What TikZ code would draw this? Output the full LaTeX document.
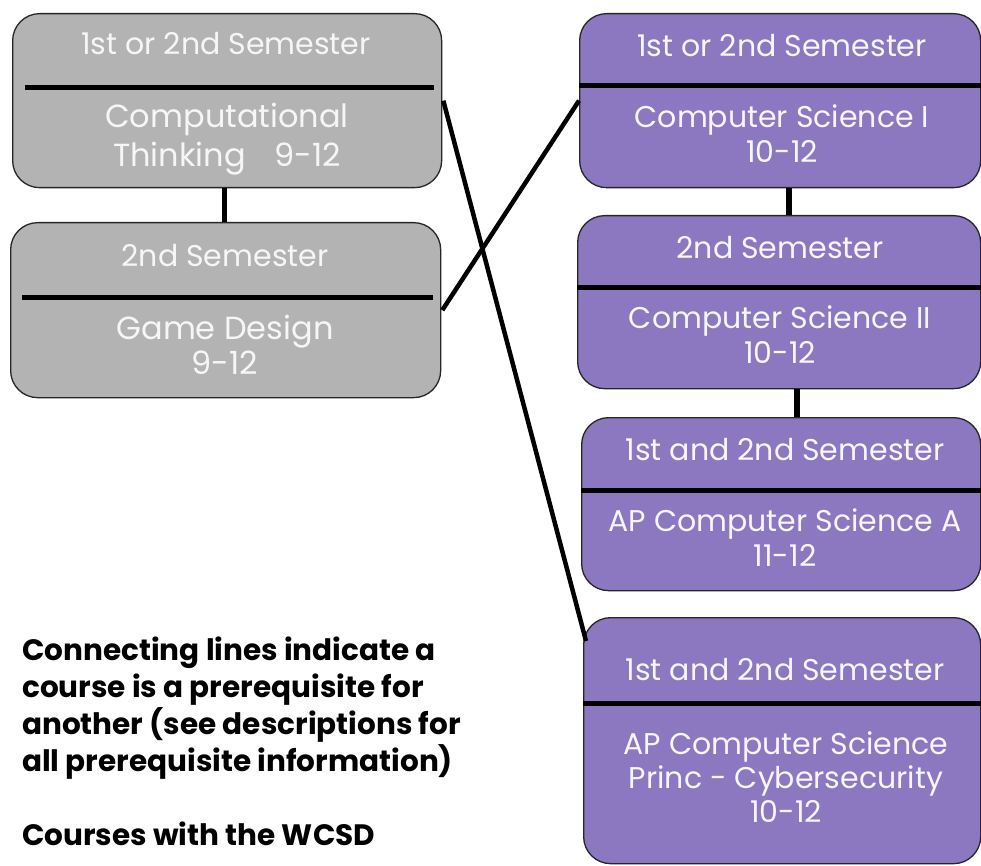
\documentclass[tikz,border=0pt]{standalone}
\usepackage{fontspec}
\setmainfont{Poppins}
\usetikzlibrary{calc}
\definecolor{boxgray}{HTML}{B3B3B3}
\definecolor{boxpurple}{HTML}{8B78C1}
\definecolor{boxtext}{HTML}{F6F6F6}
\begin{document}
\begin{tikzpicture}[x=1pt,y=-1pt,
  course/.style={draw=black!85, line width=1.3pt, rounded corners=27pt, inner sep=0pt, anchor=north west},
  grayc/.style={course, fill=boxgray},
  purc/.style={course, fill=boxpurple},
  divider/.style={line width=5pt, black},
  link/.style={line width=5.5pt, black},
  cross/.style={line width=4.5pt, black},
  head/.style={text=boxtext, font=\fontsize{30}{35}\selectfont, inner sep=0pt, anchor=base},
  body/.style={text=boxtext, font=\fontsize{30}{35}\selectfont, align=center, inner sep=0pt, anchor=base},
  note/.style={font=\bfseries\fontsize{29.5}{37}\selectfont, align=left, anchor=base west, inner sep=0pt}]
\clip (0,0) rectangle (981,866);
\fill[white] (0,0) rectangle (981,866);
% boxes
\node[grayc, minimum width=429pt, minimum height=174pt] (g1) at (12,13) {};
\node[grayc, minimum width=430pt, minimum height=175pt] (g2) at (10,222) {};
\node[purc, minimum width=401pt, minimum height=174pt] (p1) at (579,13) {};
\node[purc, minimum width=403pt, minimum height=173pt] (p2) at (577,215) {};
\node[purc, minimum width=399pt, minimum height=173pt] (p3) at (581,417) {};
\node[purc, minimum width=397pt, minimum height=246pt] (p4) at (583,617) {};
% dividers
\draw[divider] ([shift={(13,75)}]g1.north west) -- ([shift={(-8,75)}]g1.north east);
\draw[divider] ([shift={(12,75)}]g2.north west) -- ([shift={(-8,75)}]g2.north east);
\draw[divider] ([shift={(0,73)}]p1.north west) -- ([shift={(0,73)}]p1.north east);
\draw[divider] ([shift={(0,72)}]p2.north west) -- ([shift={(0,72)}]p2.north east);
\draw[divider] ([shift={(0,73)}]p3.north west) -- ([shift={(0,73)}]p3.north east);
\draw[divider] ([shift={(0,86)}]p4.north west) -- ([shift={(0,86)}]p4.north east);
% connectors
\draw[link] ([xshift=-2.5]g1.south) -- ([xshift=-2.5]g1.south |- g2.north);
\draw[link] ([xshift=9]p1.south) -- ([xshift=9]p1.south |- p2.north);
\draw[link] ([xshift=18]p2.south) -- ([xshift=18]p2.south |- p3.north);
\draw[cross] ([xshift=1]g1.east) -- ([shift={(3,24)}]p4.north west);
\draw[cross] ([xshift=1]g2.east) -- (p1.west);
% texts
\node[head] (g1h) at (226,55) {1st or 2nd Semester};
\node[body, font=\fontsize{32}{39}\selectfont] (g1b) at (227,167) {Computational\\Thinking\hspace{0.9em}9-12};
\node[head] (g2h) at (225,267) {2nd Semester};
\node[body, font=\fontsize{32}{35}\selectfont] (g2b) at (225,374) {Game Design\\9-12};
\node[head] (p1h) at (782,57) {1st or 2nd Semester};
\node[body] (p1b) at (782,163) {Computer Science I\\10-12};
\node[head] (p2h) at (780,259) {2nd Semester};
\node[body] (p2b) at (780,363) {Computer Science II\\10-12};
\node[head] (p3h) at (785,460) {1st and 2nd Semester};
\node[body] (p3b) at (785,566) {AP Computer Science A\\11-12};
\node[head] (p4h) at (785,680) {1st and 2nd Semester};
\node[body, font=\fontsize{30}{34}\selectfont] (p4b) at (786,822) {AP Computer Science\\Princ - Cybersecurity\\10-12};
\node[note] (n1) at (22,845) {Connecting lines indicate a\\course is a prerequisite for\\another (see descriptions for\\all prerequisite information)\\[37pt]Courses with the WCSD};
\end{tikzpicture}
\end{document}
